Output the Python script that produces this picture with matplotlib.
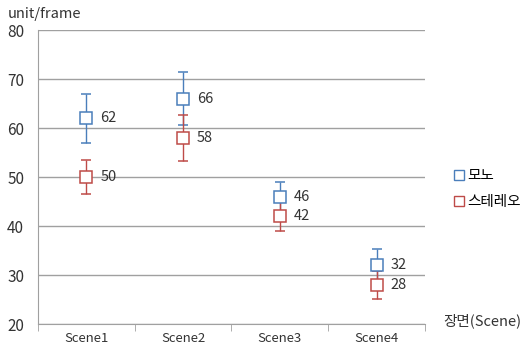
import matplotlib
matplotlib.use("Agg")
import matplotlib.pyplot as plt
from matplotlib.lines import Line2D

plt.rcParams['font.family'] = ['Noto Sans CJK KR', 'DejaVu Sans']

scenes = ["Scene1", "Scene2", "Scene3", "Scene4"]
mono = [62, 66, 46, 32]
mono_err = [5.0, 5.4, 3.0, 3.4]
stereo = [50, 58, 42, 28]
stereo_err = [3.4, 4.7, 3.0, 2.8]
series_names = ["모노", "스테레오"]
blue = "#4a7ebb"
red = "#be4b48"

fig = plt.figure(figsize=(5.25, 3.54), dpi=100)
ax = fig.add_axes([0.0724, 0.0847, 0.737, 0.8305])

x = list(range(len(scenes)))
for vals, errs, col in [(mono, mono_err, blue), (stereo, stereo_err, red)]:
    ax.errorbar(x, vals, yerr=errs, fmt='s', mfc='white', mec=col, ms=9, mew=1.1,
                ecolor=col, elinewidth=1.0, capsize=3.5, capthick=1.0, zorder=3)
    for xi, v in zip(x, vals):
        ax.annotate(f"{v}", (xi, v), xytext=(10, 0), textcoords='offset points',
                    va='center', ha='left', fontsize=10.5, color='#333333')

ax.set_xlim(-0.5, len(scenes) - 0.5)
ax.set_ylim(20, 80)
ax.set_yticks(range(20, 81, 10))
ax.yaxis.grid(True, color='#a0a0a0', lw=1.0)
ax.set_axisbelow(True)
ax.set_xticks(x)
ax.set_xticklabels(scenes, fontsize=9.5, color='#333333')
ax.tick_params(axis='x', length=0, pad=6)
ax.set_xticks([i - 0.5 for i in range(len(scenes) + 1)], minor=True)
ax.tick_params(axis='x', which='minor', length=5, color='#a0a0a0', direction='out')
ax.tick_params(axis='y', length=0, labelsize=11, labelcolor='#333333', pad=10)
for s in ['top', 'right']:
    ax.spines[s].set_visible(False)
for s in ['left', 'bottom']:
    ax.spines[s].set_color('#a0a0a0')

fig.text(0.015, 0.96, "unit/frame", fontsize=10.5, color='#333333', va='center', ha='left')
fig.text(0.845, 0.095, "장면(Scene)", fontsize=10.5, color='#333333', va='center', ha='left')

handles = [Line2D([], [], ls='none', marker='s', mfc='white', mec=c, ms=7.5, mew=1.0)
           for c in (blue, red)]
fig.legend(handles, series_names, loc='center left', bbox_to_anchor=(0.852, 0.465),
           frameon=False, fontsize=10.5, handlelength=0.6, handletextpad=0.3,
           labelspacing=0.8, borderpad=0)

fig.savefig("out.png", dpi=100)
